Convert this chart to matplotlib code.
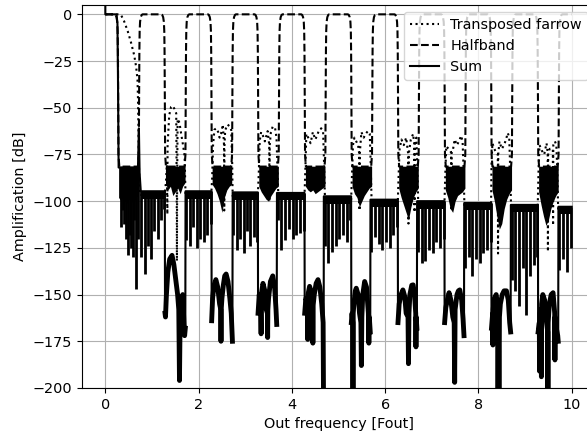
import numpy as np
import matplotlib.pyplot as plt

plt.rcParams['path.simplify'] = False
plt.rcParams['font.size'] = 10.4

# ---- halfband: passband centres, shape of one passband (offset, dB) ----
hb_centres = [0, 1, 2, 3, 4, 5, 6, 7, 8, 9, 10]
hb_edge_dx = [-0.30, -0.282, -0.276, -0.27, -0.264, -0.255, -0.24, -0.22, -0.20,
              0.20, 0.22, 0.24, 0.255, 0.264, 0.27, 0.276, 0.282, 0.30]
hb_edge_db = [-81.5, -75, -45, -20, -9, -4, -1.5, -0.3, 0,
              0, -0.3, -1.5, -4, -9, -20, -45, -75, -81.5]
# dense stopband between passbands: top level and lower edge
hb_stop_top = -81.3
hb_stop_bottom = [
    [-98, -100, -97, -102, -99, -100, -101, -98, -97],
    [-90, -94, -92, -97, -95, -93, -96, -92, -90],
    [-91, -93, -96, -100, -106, -98, -94, -92, -91],
    [-92, -95, -97, -99, -100, -97, -95, -93, -92],
    [-92, -94, -95, -94, -96, -95, -94, -93, -92],
    [-92, -96, -98, -103, -100, -97, -95, -93, -92],
    [-93, -98, -102, -106, -110, -103, -98, -95, -93],
    [-94, -98, -104, -106, -100, -97, -96, -95, -93],
    [-94, -100, -108, -115, -112, -104, -99, -96, -94],
    [-95, -102, -108, -113, -110, -104, -100, -97, -95],
]

# ---- transposed farrow ----
far_start_x = [0, 0.30, 0.34, 0.40, 0.48, 0.55, 0.62, 0.66, 0.69, 0.70, 0.71, 0.72, 0.74]
far_start_y = [0, 0, -0.5, -3.5, -9, -15, -22, -28, -35, -45, -60, -80, -96.7]
far_lobe_x = [
    [1.27, 1.30, 1.32, 1.325, 1.33, 1.335, 1.37, 1.41, 1.44, 1.48, 1.52, 1.53, 1.535, 1.54, 1.55, 1.59, 1.62, 1.67, 1.70, 1.72],
    [2.27, 2.29, 2.31, 2.34, 2.38, 2.42, 2.45, 2.48, 2.52, 2.545, 2.55, 2.555, 2.57, 2.62, 2.67, 2.70, 2.72, 2.73],
    [3.27, 3.29, 3.31, 3.34, 3.38, 3.42, 3.48, 3.515, 3.52, 3.525, 3.55, 3.59, 3.64, 3.67, 3.69, 3.71],
    [4.27, 4.29, 4.31, 4.35, 4.40, 4.45, 4.50, 4.54, 4.58, 4.63, 4.67, 4.69, 4.71],
    [5.27, 5.29, 5.31, 5.34, 5.38, 5.42, 5.445, 5.45, 5.455, 5.49, 5.54, 5.58, 5.63, 5.67, 5.69, 5.71],
    [6.27, 6.29, 6.31, 6.35, 6.40, 6.45, 6.495, 6.50, 6.505, 6.55, 6.60, 6.625, 6.63, 6.635, 6.67, 6.69, 6.71],
    [7.27, 7.29, 7.31, 7.36, 7.415, 7.42, 7.425, 7.45, 7.49, 7.54, 7.58, 7.63, 7.66, 7.68, 7.70],
    [8.27, 8.28, 8.30, 8.34, 8.38, 8.415, 8.42, 8.425, 8.45, 8.50, 8.55, 8.59, 8.63, 8.66, 8.68, 8.70],
    [9.27, 9.29, 9.31, 9.36, 9.41, 9.46, 9.485, 9.49, 9.495, 9.53, 9.595, 9.60, 9.605, 9.64, 9.67, 9.69, 9.71],
]
far_lobe_y = [
    [-96.7, -90, -79, -95, -107, -70, -54, -49.5, -49, -50.5, -53, -90, -132, -90, -56, -58, -63, -70.6, -76, -96.7],
    [-96.7, -88, -70, -61.7, -61, -63, -66, -64, -59, -70, -105, -70, -62, -59, -60, -62, -80, -97.3],
    [-97.3, -85, -68, -63, -65, -68, -62.5, -70, -100, -70, -63, -60, -61, -66, -82, -97.6],
    [-97.6, -82, -64, -66, -69, -63, -67, -65, -62, -61, -63, -80, -99.4],
    [-99.4, -85, -70, -66, -68, -70, -75, -105, -75, -63, -66, -64, -62.5, -64, -80, -101.2],
    [-101.2, -85, -72, -67, -70, -66, -75, -112, -75, -67, -64, -70, -106, -70, -66, -82, -102],
    [-102, -85, -70.6, -72, -74, -105, -74, -73, -67, -70, -68, -65, -68, -82, -103],
    [-103, -80, -69, -72, -74, -75, -128, -75, -68, -72, -70, -67, -63.5, -66, -82, -104],
    [-104, -82, -70, -73, -75, -69, -74, -127, -74, -72, -72, -113, -70, -68, -70, -83, -105],
]
far_end_x = [10.0]
far_end_y = [-105]

# ---- sum ----
sum_start_x = [0, 0, 0.24, 0.26, 0.27, 0.285, 0.70, 0.72, 0.735, 0.76]
sum_start_y = [10, 0, 0, -5, -30, -82, -82, -61, -85, -94.7]
# short spikes under the first stopband
sum_spike0_x = [0.34, 0.37, 0.40, 0.44, 0.48, 0.52, 0.55, 0.59, 0.62, 0.66, 0.69]
sum_spike0_y = [-114, -105, -112, -120, -129, -118, -125, -130, -110, -147, -120]
# level of the ripple band around each integer frequency (1..10)
sum_top = [-94.7, -94.7, -95.3, -95.6, -97.4, -99.2, -100, -101, -102, -103]
sum_fingers = [
    [-130, -139, -124, -131, -116, -120, -110, -104],
    [-121, -124, -114, -125, -120, -122, -118, -112],
    [-118, -126, -120, -128, -116, -124, -119, -122],
    [-110, -126, -121, -115, -120, -118, -117, -116],
    [-124, -133, -127, -124, -120, -118, -122, -110],
    [-127, -119, -123, -126, -122, -125, -118, -114],
    [-127, -133, -132, -126, -128, -122, -125, -120],
    [-136, -130, -140, -131, -133, -128, -126, -122],
    [-142, -148, -156, -136, -161, -140, -134, -130],
    [-137, -131, -138, -125],
]
# humps between the halfband passbands
sum_hump_x = [
    [1.275, 1.28, 1.29, 1.31, 1.34, 1.38, 1.43, 1.47, 1.51, 1.55, 1.575, 1.59, 1.605, 1.63, 1.66, 1.685, 1.70, 1.715, 1.72],
    [2.275, 2.28, 2.30, 2.33, 2.37, 2.41, 2.45, 2.475, 2.48, 2.485, 2.50, 2.53, 2.56, 2.59, 2.63, 2.67, 2.70, 2.725, 2.73],
    [3.27, 3.275, 3.30, 3.33, 3.34, 3.35, 3.38, 3.42, 3.45, 3.475, 3.48, 3.485, 3.50, 3.54, 3.59, 3.63, 3.66, 3.675, 3.68],
    [4.27, 4.275, 4.30, 4.335, 4.34, 4.345, 4.38, 4.42, 4.445, 4.45, 4.455, 4.48, 4.52, 4.56, 4.60, 4.64, 4.67, 4.68, 4.685],
    [5.27, 5.275, 5.29, 5.305, 5.31, 5.315, 5.33, 5.36, 5.38, 5.42, 5.45, 5.48, 5.49, 5.50, 5.52, 5.56, 5.60, 5.64, 5.65, 5.66, 5.68, 5.685],
    [6.27, 6.275, 6.30, 6.34, 6.38, 6.42, 6.45, 6.49, 6.50, 6.51, 6.53, 6.57, 6.60, 6.63, 6.655, 6.66, 6.665, 6.68, 6.685],
    [7.27, 7.275, 7.30, 7.34, 7.37, 7.41, 7.45, 7.48, 7.49, 7.50, 7.54, 7.57, 7.60, 7.64, 7.67, 7.69, 7.695],
    [8.275, 8.28, 8.305, 8.31, 8.315, 8.34, 8.38, 8.41, 8.42, 8.43, 8.44, 8.45, 8.47, 8.51, 8.55, 8.60, 8.64, 8.67, 8.69, 8.695],
    [9.275, 9.28, 9.305, 9.31, 9.315, 9.345, 9.35, 9.355, 9.38, 9.42, 9.46, 9.485, 9.49, 9.495, 9.52, 9.56, 9.60, 9.635, 9.64, 9.645, 9.67, 9.70, 9.71, 9.715],
]
sum_hump_y = [
    [-94.7, -160, -162, -150, -138, -131, -129, -134, -142, -150, -158, -196, -160, -155, -150, -165, -172, -168, -94.7],
    [-94.7, -164, -152, -145, -142, -146, -155, -158, -175, -158, -152, -145, -140, -139, -143, -152, -160, -175, -95.3],
    [-95.3, -160, -150, -158, -171, -149, -144, -148, -158, -160, -173, -158, -152, -143, -140, -146, -158, -166, -95.6],
    [-95.6, -160, -152, -155, -174, -150, -145.6, -149, -156, -176, -156, -150, -144, -142, -146, -155, -165, -215, -97.4],
    [-97.4, -165, -160, -165, -215, -160, -155, -148, -146.6, -150, -160, -165, -188, -162, -150, -143, -146, -160, -176, -162, -170, -99.2],
    [-99.2, -165, -155, -150, -147.5, -151, -160, -162, -187, -160, -150, -145, -144.8, -150, -160, -178, -162, -168, -100],
    [-100, -165, -157, -152, -149, -153, -162, -165, -197, -158, -150, -148, -147.5, -153, -163, -172, -101],
    [-101, -168, -160, -177, -158, -152, -150, -156, -215, -168, -215, -162, -155, -150, -148, -148, -153, -165, -170, -102],
    [-102, -170, -165, -191, -160, -158, -194, -155, -150, -153, -165, -170, -215, -165, -155, -150, -149, -160, -185, -162, -168, -172, -175, -103],
]
sum_end_x = [10.0]
sum_end_y = [-103]

fig = plt.figure(figsize=(5.87, 4.38), dpi=100)
ax = fig.add_axes([0.1397, 0.1142, 0.874, 0.8744])

# transposed farrow
fx = list(far_start_x)
fy = list(far_start_y)
for lx, ly in zip(far_lobe_x, far_lobe_y):
    fx += lx
    fy += ly
fx += far_end_x
fy += far_end_y
ax.plot(fx, fy, 'k:', lw=1.5, label='Transposed farrow', zorder=2.0)

# halfband
hx, hy = [0.0], [0.0]
for c in hb_centres:
    for dx, db in zip(hb_edge_dx, hb_edge_db):
        if 0 < c + dx <= 10:
            hx.append(c + dx)
            hy.append(db)
hx.append(10.0)
hy.append(0.0)
ax.plot(hx, hy, 'k--', lw=1.5, label='Halfband', zorder=2.1)
for i, bottom in enumerate(hb_stop_bottom):
    left = 0.285 if i == 0 else i + 0.29
    bx = np.linspace(left, i + 0.71, len(bottom))
    ax.fill_between(bx, hb_stop_top, bottom, color='k', lw=0, zorder=2.1)

# sum
sx = list(sum_start_x)
sy = list(sum_start_y)
for hxk, hyk in zip(sum_hump_x, sum_hump_y):
    sx += hxk
    sy += hyk
sx += sum_end_x
sy += sum_end_y
ax.plot(sx, sy, 'k-', lw=1.5, label='Sum', zorder=2.2)

ax.vlines(sum_spike0_x, -82, sum_spike0_y, colors='k', lw=2.0, zorder=2.2)

lefts = [0.76] + [h[-1] for h in sum_hump_x]
rights = [h[0] for h in sum_hump_x] + sum_end_x
for left, right, top, fing in zip(lefts, rights, sum_top, sum_fingers):
    ax.fill_between([left, right], top, top - 4, color='k', lw=0, zorder=2.2)
    xs = np.linspace(left + 0.015, right - 0.015, len(fing))
    ax.vlines(xs, top, fing, colors='k', lw=2.0, zorder=2.2)

for hxk, hyk in zip(sum_hump_x, sum_hump_y):
    ax.plot(hxk[1:-1], hyk[1:-1], 'k-', lw=3.5, zorder=2.2)

ax.set_xlim(-0.5, 10.5)
ax.set_ylim(-200, 5)
ax.set_xticks([0, 2, 4, 6, 8, 10])
ax.set_yticks([0, -25, -50, -75, -100, -125, -150, -175, -200])
ax.grid(True)
ax.set_xlabel('Out frequency [Fout]')
ax.set_ylabel('Amplification [dB]')
ax.legend(loc='upper right')

fig.savefig('out.png')
